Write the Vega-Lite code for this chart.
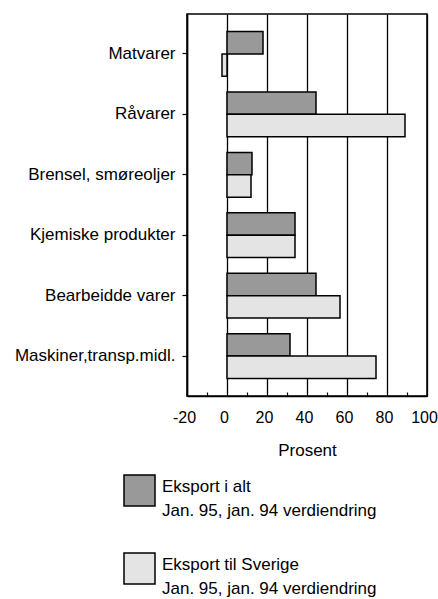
{
  "$schema": "https://vega.github.io/schema/vega-lite/v6.json",
  "autosize": {"type": "none"},
  "padding": {"left": 187, "top": 14, "right": 11, "bottom": 203},
  "width": 240,
  "height": 382,
  "background": "white",
  "config": {
    "font": "Liberation Sans",
    "view": {"stroke": "black", "strokeWidth": 1.5},
    "axis": {"labelFont": "Liberation Sans", "titleFont": "Liberation Sans", "labelColor": "black", "titleColor": "black", "domainColor": "black", "tickColor": "black"},
    "legend": {"labelFont": "Liberation Sans"}
  },
  "data": {
    "values": [
      {"kategori": "Matvarer", "serie": "Eksport i alt", "prosent": 18},
      {"kategori": "Matvarer", "serie": "Eksport til Sverige", "prosent": -2.5},
      {"kategori": "Råvarer", "serie": "Eksport i alt", "prosent": 44.5},
      {"kategori": "Råvarer", "serie": "Eksport til Sverige", "prosent": 89},
      {"kategori": "Brensel, smøreoljer", "serie": "Eksport i alt", "prosent": 12.5},
      {"kategori": "Brensel, smøreoljer", "serie": "Eksport til Sverige", "prosent": 12},
      {"kategori": "Kjemiske produkter", "serie": "Eksport i alt", "prosent": 34},
      {"kategori": "Kjemiske produkter", "serie": "Eksport til Sverige", "prosent": 34},
      {"kategori": "Bearbeidde varer", "serie": "Eksport i alt", "prosent": 44.5},
      {"kategori": "Bearbeidde varer", "serie": "Eksport til Sverige", "prosent": 56.5},
      {"kategori": "Maskiner,transp.midl.", "serie": "Eksport i alt", "prosent": 31.5},
      {"kategori": "Maskiner,transp.midl.", "serie": "Eksport til Sverige", "prosent": 74.5}
    ]
  },
  "mark": {"type": "bar", "stroke": "black", "strokeWidth": 1.5},
  "encoding": {
    "y": {
      "field": "kategori",
      "type": "nominal",
      "sort": null,
      "scale": {"paddingInner": 0.26, "paddingOuter": 0.29},
      "axis": {
        "title": null,
        "labelFontSize": 17,
        "labelPadding": 7,
        "tickSize": 5,
        "tickWidth": 1.2,
        "domainWidth": 1.5,
        "labelLimit": 300
      }
    },
    "yOffset": {"field": "serie", "type": "nominal", "sort": null},
    "x": {
      "field": "prosent",
      "type": "quantitative",
      "scale": {"domain": [-20, 100], "nice": false, "zero": false},
      "axis": {
        "title": "Prosent",
        "titleFontSize": 17,
        "titleFontWeight": "normal",
        "titlePadding": 17,
        "values": [-20, -10, 0, 10, 20, 30, 40, 50, 60, 70, 80, 90, 100],
        "labelExpr": "datum.value % 20 === 0 ? toString(datum.value) : ''",
        "labelOverlap": false,
        "labelFontSize": 16,
        "labelPadding": 13,
        "labelOffset": -3,
        "labelFlush": false,
        "grid": true,
        "gridColor": "black",
        "gridWidth": 1.3,
        "gridOpacity": {"condition": {"test": "datum.value % 20 === 0", "value": 1}, "value": 0},
        "tickSize": {"condition": {"test": "datum.value % 20 === 0", "value": 0}, "value": -4},
        "tickWidth": 1.2,
        "domainWidth": 1.5
      }
    },
    "fill": {
      "field": "serie",
      "type": "nominal",
      "sort": null,
      "scale": {"range": ["#999999", "#e4e4e4"]},
      "legend": {
        "title": null,
        "orient": "none",
        "legendX": -64,
        "legendY": 460,
        "direction": "vertical",
        "padding": 0,
        "symbolType": "square",
        "symbolSize": 961,
        "symbolStrokeColor": "black",
        "symbolStrokeWidth": 1.5,
        "labelFontSize": 17,
        "labelColor": "black",
        "labelOffset": 6,
        "labelLimit": 400,
        "rowPadding": 31,
        "labelExpr": "datum.label == 'Eksport i alt' ? ['Eksport i alt', 'Jan. 95, jan. 94 verdiendring'] : ['Eksport til Sverige', 'Jan. 95, jan. 94 verdiendring']",
        "encode": {"labels": {"update": {"lineHeight": {"value": 24}, "dy": {"value": -4}}}}
      }
    }
  }
}
